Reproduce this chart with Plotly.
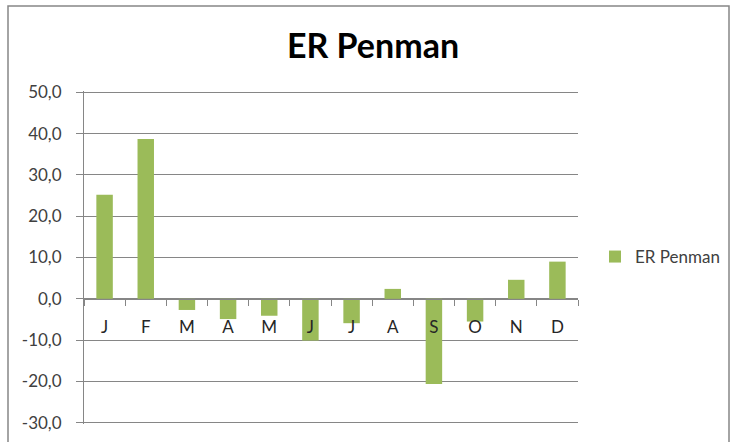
import plotly.graph_objects as go

months = ["Jan", "Feb", "Mar", "Apr", "May", "Jun", "Jul", "Aug", "Sep", "Oct", "Nov", "Dec"]
month_labels = ["J", "F", "M", "A", "M", "J", "J", "A", "S", "O", "N", "D"]
er_penman = [25.2, 38.7, -2.7, -4.9, -4.1, -10.1, -5.9, 2.4, -20.6, -5.5, 4.6, 9.0]
y_tick_vals = [-30, -20, -10, 0, 10, 20, 30, 40, 50]
y_tick_text = ["-30,0", "-20,0", "-10,0", "0,0", "10,0", "20,0", "30,0", "40,0", "50,0"]
series_name = "ER Penman"
title_text = "ER Penman"

W, H = 731, 442
L, R, T, B = 84, 153, 91, 18
ymin, ymax = -30, 50
pad = 0.3
pw, ph = W - L - R, H - T - B

grid = "#868686"
font_fam = "Lato, 'DejaVu Sans', sans-serif"

fig = go.Figure()
fig.add_trace(go.Bar(
    x=months, y=er_penman, name=series_name,
    marker=dict(color="#9BBB59", line=dict(width=0)),
    width=0.4,
))

yr0, yr1 = ymin - pad, ymax + pad
zero_pos = (0 - yr0) / (yr1 - yr0)

fig.update_layout(
    width=W, height=H,
    margin=dict(l=L, r=R, t=T, b=B, pad=0, autoexpand=False),
    paper_bgcolor="white", plot_bgcolor="white",
    font=dict(family=font_fam, size=17, color="#404040"),
    title=dict(text="<b>" + title_text + "</b>", x=373 / W, xanchor="center",
               y=1 - 46 / H, yanchor="middle",
               font=dict(family=font_fam, size=34, color="black")),
    showlegend=True,
    legend=dict(x=(595 - L) / pw, xanchor="left", y=(H - B - 257) / ph, yanchor="middle",
                font=dict(size=17, color="#404040"), bgcolor="rgba(0,0,0,0)",
                itemwidth=30),
    xaxis=dict(
        type="category",
        tickmode="array", tickvals=months, ticktext=month_labels,
        tickson="boundaries",
        ticks="outside", ticklen=6, tickcolor=grid, tickwidth=1,
        showline=True, linecolor=grid, linewidth=1,
        showgrid=False, zeroline=False,
        anchor="free", position=zero_pos,
        ticklabelstandoff=13,
        tickfont=dict(size=17, color="#262626"),
        range=[-0.5, 11.5],
        automargin=False,
    ),
    yaxis=dict(
        range=[yr0, yr1],
        tickmode="array", tickvals=y_tick_vals, ticktext=y_tick_text,
        ticks="outside", ticklen=7, tickcolor=grid,
        showline=True, linecolor=grid, linewidth=1,
        showgrid=True, gridcolor=grid, gridwidth=1,
        zeroline=False,
        ticklabelstandoff=11,
        tickfont=dict(size=17, color="#404040"),
        automargin=False,
    ),
    shapes=[dict(type="rect", xref="paper", yref="paper",
                 x0=(8 - L) / pw, x1=(729 - L) / pw,
                 y0=(H - B - (H + 5)) / ph, y1=(H - B - 6) / ph,
                 line=dict(color=grid, width=1.5), fillcolor="rgba(0,0,0,0)", layer="below")],
)

fig.write_html("out.html", config={"displayModeBar": False},
               post_script="document.body.style.margin='0';document.body.style.overflow='hidden';")
